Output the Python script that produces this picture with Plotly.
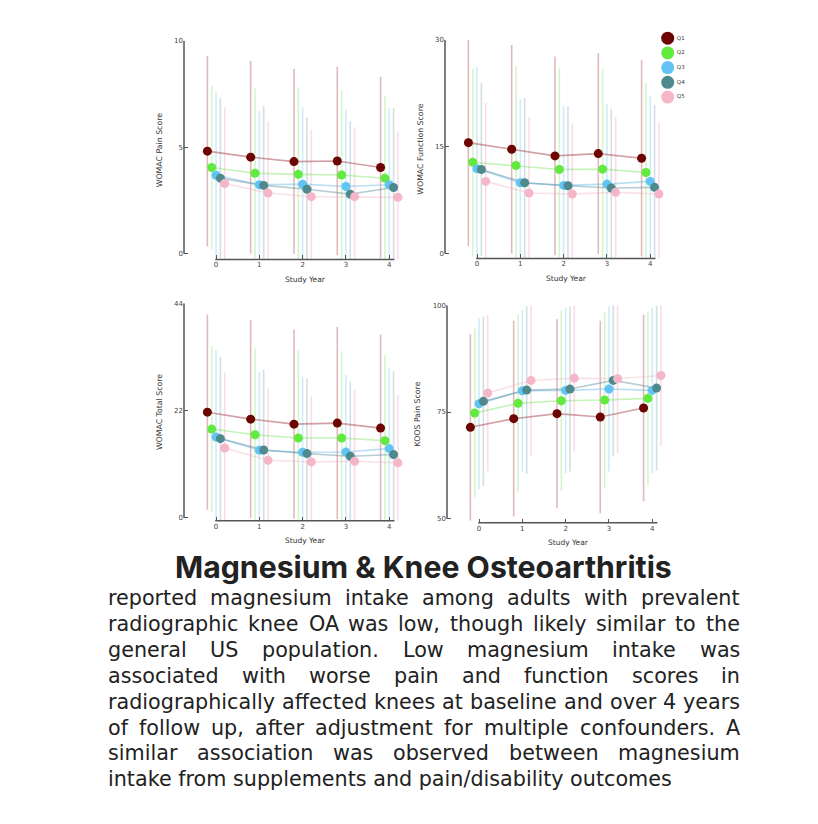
import subprocess
import plotly.graph_objects as go

W, H = 818, 824

# ---------------- data ----------------
years = [0, 1, 2, 3, 4]
quintiles = ["Q1", "Q2", "Q3", "Q4", "Q5"]

pain_means = [
    [4.81, 4.53, 4.32, 4.35, 4.04],
    [4.04, 3.77, 3.72, 3.69, 3.54],
    [3.68, 3.23, 3.26, 3.15, 3.23],
    [3.54, 3.20, 3.02, 2.79, 3.10],
    [3.29, 2.84, 2.67, 2.67, 2.64],
]
pain_sd = [
    [4.47, 4.53, 4.35, 4.43, 4.27],
    [3.85, 4.00, 4.09, 3.97, 3.87],
    [3.89, 3.48, 3.62, 3.61, 3.60],
    [3.76, 3.73, 3.38, 3.42, 3.73],
    [3.59, 3.37, 3.15, 3.26, 3.11],
]
func_means = [
    [15.56, 14.63, 13.70, 14.02, 13.37],
    [12.81, 12.35, 11.79, 11.84, 11.37],
    [11.88, 9.93, 9.56, 9.74, 10.12],
    [11.79, 9.93, 9.51, 9.19, 9.28],
    [10.12, 8.49, 8.35, 8.58, 8.35],
]
func_sd = [
    [14.5, 14.65, 13.95, 14.1, 13.8],
    [13.2, 14.0, 14.2, 14.1, 12.56],
    [14.3, 11.77, 11.1, 11.2, 11.95],
    [12.1, 11.9, 11.15, 11.1, 11.6],
    [11.0, 10.65, 9.86, 10.56, 10.0],
]
total_means = [
    [21.66, 20.23, 19.21, 19.42, 18.40],
    [18.20, 17.04, 16.36, 16.36, 15.82],
    [16.57, 13.85, 13.44, 13.51, 14.19],
    [16.23, 13.92, 13.17, 12.63, 12.97],
    [14.33, 11.81, 11.47, 11.61, 11.27],
]
total_sd = [
    [20.0, 20.25, 19.4, 19.7, 19.2],
    [17.05, 17.7, 18.0, 17.8, 17.5],
    [17.8, 16.1, 15.5, 15.8, 16.4],
    [16.8, 16.5, 15.4, 15.3, 17.1],
    [15.5, 14.7, 13.4, 14.6, 13.9],
]
koos_means = [
    [71.42, 73.44, 74.61, 73.83, 75.93],
    [74.77, 77.02, 77.64, 77.80, 78.19],
    [76.94, 79.98, 80.05, 80.37, 80.05],
    [77.49, 80.13, 80.37, 82.39, 80.60],
    [79.43, 82.39, 82.93, 82.78, 83.55],
]
koos_sd = [
    [21.8, 22.9, 22.1, 22.5, 21.8],
    [19.7, 20.9, 21.1, 20.7, 20.3],
    [20.0, 18.9, 19.4, 19.3, 19.4],
    [19.8, 19.6, 19.3, 17.8, 19.3],
    [18.3, 17.6, 17.1, 17.4, 16.5],
]

panel_titles = ["WOMAC Pain Score", "WOMAC Function Score",
                "WOMAC Total Score", "KOOS Pain Score"]
panel_ticks = [[0, 5, 10], [0, 15, 30], [0, 22, 44], [50, 75, 100]]
x_label = "Study Year"

title_text = "Magnesium & Knee Osteoarthritis"
body_lines = [
    "reported magnesium intake among adults with prevalent",
    "radiographic knee OA was low, though likely similar to the",
    "general US population. Low magnesium intake was",
    "associated with worse pain and function scores in",
    "radiographically affected knees at baseline and over 4 years",
    "of follow up, after adjustment for multiple confounders. A",
    "similar association was observed between magnesium",
    "intake from supplements and pain/disability outcomes",
]

# ---------------- styles ----------------
marker_colors = ["#6e0303", "#62ea3f", "#62c3f5", "#4e8a8d", "#f5b7c8"]
line_colors = ["rgba(165,65,75,0.50)", "rgba(110,225,80,0.40)",
               "rgba(100,185,230,0.45)", "rgba(80,130,150,0.40)",
               "rgba(240,170,190,0.35)"]
err_colors = ["rgba(175,70,80,0.38)", "rgba(110,230,80,0.30)",
              "rgba(100,190,240,0.30)", "rgba(90,140,165,0.28)",
              "rgba(240,160,185,0.36)"]
dodge = [-0.2, -0.1, 0.0, 0.1, 0.2]

CHART_FONT = "DejaVu Sans"
TITLE_FONT = "Inter"
BODY_FONT = "DejaVu Sans"

# panel placement in pixels: left edge, top tick px, bottom tick px, x-axis line px
panel_px = [
    dict(left=184, top=37, bot=251, axis=257),
    dict(left=445, top=36, bot=251, axis=256),
    dict(left=184, top=301, bot=517, axis=520),
    dict(left=447, top=303, bot=518, axis=522),
]
PX_PER_YEAR = 43.3
XR = [-0.74, 4.25]

means_all = [pain_means, func_means, total_means, koos_means]
sd_all = [pain_sd, func_sd, total_sd, koos_sd]

fig = go.Figure()
layout = dict(width=W, height=H, margin=dict(l=0, r=0, t=0, b=0),
              paper_bgcolor="white", plot_bgcolor="rgba(0,0,0,0)",
              showlegend=False, shapes=[], annotations=[])

for p in range(4):
    idx = "" if p == 0 else str(p + 1)
    xa, ya = "x" + idx, "y" + idx
    px = panel_px[p]
    ticks = panel_ticks[p]
    tmin, tmax = ticks[0], ticks[-1]
    ymin = tmin - (px["axis"] - px["bot"]) / (px["bot"] - px["top"]) * (tmax - tmin)
    xdom = [px["left"] / W, (px["left"] + (XR[1] - XR[0]) * PX_PER_YEAR) / W]
    ydom = [1 - px["axis"] / H, 1 - px["top"] / H]

    means, sds = means_all[p], sd_all[p]
    # error bars layer
    for q in range(5):
        fig.add_trace(go.Scatter(
            x=[y + dodge[q] for y in years], y=means[q], mode="markers",
            marker=dict(size=1, color="rgba(0,0,0,0)"),
            error_y=dict(type="data", array=sds[q], color=err_colors[q],
                         thickness=1.6, width=0),
            xaxis=xa, yaxis=ya, hoverinfo="skip", cliponaxis=False))
    # lines layer
    for q in range(5):
        fig.add_trace(go.Scatter(
            x=[y + dodge[q] for y in years], y=means[q], mode="lines",
            line=dict(color=line_colors[q], width=1.6),
            xaxis=xa, yaxis=ya, hoverinfo="skip"))
    # markers layer
    for q in range(5):
        fig.add_trace(go.Scatter(
            x=[y + dodge[q] for y in years], y=means[q], mode="markers",
            marker=dict(size=9, color=marker_colors[q], line=dict(width=0)),
            name=quintiles[q], xaxis=xa, yaxis=ya, cliponaxis=False))

    xkey = "xaxis" + idx
    ykey = "yaxis" + idx
    layout[xkey] = dict(domain=xdom, range=XR, anchor=ya, tickvals=years,
                        ticks="inside", ticklen=4, tickwidth=1, tickcolor="#555",
                        showline=False, showgrid=False, zeroline=False,
                        tickfont=dict(family=CHART_FONT, size=7, color="#444"))
    layout[ykey] = dict(domain=ydom, range=[ymin, tmax], anchor=xa, tickvals=ticks,
                        ticks="inside", ticklen=4, tickwidth=1, tickcolor="#555",
                        showline=False, showgrid=False, zeroline=False,
                        tickfont=dict(family=CHART_FONT, size=7, color="#444"),
                        title=dict(text=panel_titles[p], standoff=10,
                                   font=dict(family=CHART_FONT, size=7.8, color="#333")))
    # axis lines
    layout["shapes"].append(dict(type="line", xref=xa, yref=ya + " domain",
                                 x0=years[0] - 0.02, x1=years[-1] + 0.12, y0=0, y1=0,
                                 line=dict(color="#555", width=1.5)))
    layout["shapes"].append(dict(type="line", xref=xa + " domain", yref=ya,
                                 x0=0, x1=0, y0=tmin, y1=tmax,
                                 line=dict(color="#555", width=1.5)))
    layout["annotations"].append(dict(
        text=x_label, xref=xa, yref=ya + " domain",
        x=(years[0] + years[-1] + 0.12) / 2, y=0, yshift=-20,
        xanchor="center", yanchor="middle", showarrow=False,
        font=dict(family=CHART_FONT, size=7.5, color="#333")))

# legend (own hidden axes)
fig.add_trace(go.Scatter(
    x=["k"] * len(quintiles), y=quintiles, mode="markers+text",
    text=quintiles, textposition="middle right",
    textfont=dict(family=CHART_FONT, size=5.5, color="#333"),
    marker=dict(size=13, color=marker_colors, line=dict(width=0)),
    xaxis="x5", yaxis="y5", hoverinfo="skip", cliponaxis=False))
layout["xaxis5"] = dict(domain=[662 / W, 702 / W], anchor="y5", visible=False,
                        range=[-0.5, 3.0], type="category")
layout["yaxis5"] = dict(domain=[1 - 101 / H, 1 - 27 / H], anchor="x5", visible=False,
                        range=[4.5, -0.5], type="category")

# ---------------- text block (justified) ----------------
def font_path(family, bold=False):
    try:
        pat = family + (":bold" if bold else ":regular")
        out = subprocess.run(["fc-match", "-f", "%{file}", pat],
                             capture_output=True, text=True, timeout=10).stdout.strip()
        return out or None
    except Exception:
        return None


def measurer(family, size, bold=False):
    path = font_path(family, bold)
    if path:
        try:
            from PIL import ImageFont
            f = ImageFont.truetype(path, size)
            if bold:
                try:
                    f.set_variation_by_name("Bold")
                except Exception:
                    pass
            return lambda s: f.getlength(s)
        except Exception:
            pass
        try:
            from fontTools.ttLib import TTFont
            tt = TTFont(path)
            cmap = tt.getBestCmap()
            hmtx = tt["hmtx"]
            upm = tt["head"].unitsPerEm

            def m(s):
                tot = 0
                for c in s:
                    g = cmap.get(ord(c), cmap.get(32))
                    tot += hmtx[g][0]
                return tot * size / upm
            return m
        except Exception:
            pass
    k = 0.6 if bold else 0.55
    return lambda s: len(s) * size * k


TEXT_L, TEXT_R = 108, 740
BODY_TARGET_LAST = 564.0
TITLE_TARGET = 497.0
LINE0, LINE_STEP = 598, 26.0

m20 = measurer(BODY_FONT, 20)
body_size = round(min(20 * BODY_TARGET_LAST / m20(body_lines[-1]), LINE_STEP / 1.2), 2)
mt = measurer(TITLE_FONT, 20, bold=True)
title_size = round(20 * TITLE_TARGET / mt(title_text), 2)
mb = measurer(BODY_FONT, body_size)

layout["annotations"].append(dict(
    text="<b>" + title_text + "</b>", xref="paper", yref="paper",
    x=423.5 / W, y=1 - 566 / H, xanchor="center", yanchor="middle",
    showarrow=False, borderpad=0, borderwidth=0,
    font=dict(family=TITLE_FONT, size=title_size, color="#222")))

for i, line in enumerate(body_lines):
    yc = 1 - (LINE0 + i * LINE_STEP) / H
    words = line.split()
    common = dict(xref="paper", yref="paper", y=yc, xanchor="left", yanchor="middle",
                  showarrow=False, borderpad=0, borderwidth=0,
                  font=dict(family=BODY_FONT, size=body_size, color="#222"))
    if i == len(body_lines) - 1 or len(words) < 2:
        layout["annotations"].append(dict(text=line, x=TEXT_L / W, **common))
        continue
    widths = [mb(w) for w in words]
    gap = (TEXT_R - TEXT_L - sum(widths)) / (len(words) - 1)
    xpos = TEXT_L
    for w, wd in zip(words, widths):
        layout["annotations"].append(dict(text=w, x=xpos / W, **common))
        xpos += wd + gap

fig.update_layout(**layout)
fig.write_html("out.html", config={"displayModeBar": False},
               post_script="document.body.style.margin='0';document.body.style.padding='0';")
